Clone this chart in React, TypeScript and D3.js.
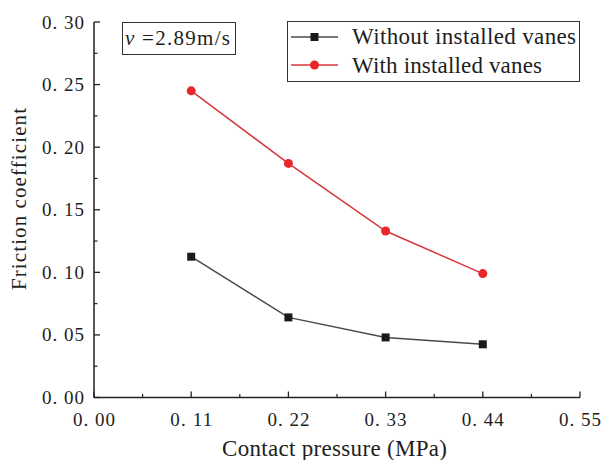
import React from "react";
import * as d3 from "d3";

const pressures = [0.11, 0.22, 0.33, 0.44];
const withoutVanes = [0.1125, 0.064, 0.048, 0.0425];
const withVanes = [0.245, 0.187, 0.133, 0.099];
const xTicks = [0, 0.11, 0.22, 0.33, 0.44, 0.55];
const yTicks = [0, 0.05, 0.1, 0.15, 0.2, 0.25, 0.3];
const seriesNames = ["Without installed vanes", "With installed vanes"];

const W = 602, H = 460;
const left = 94, right = 580, top = 22, bottom = 397.5;
const font = "'Liberation Serif', 'Times New Roman', serif";

export default function App() {
  const x = d3.scaleLinear().domain([0, 0.55]).range([left, right]);
  const y = d3.scaleLinear().domain([0, 0.3]).range([bottom, top]);
  const line = d3.line<number>().x((_, i) => x(pressures[i])).y((d) => y(d));
  const fmt = (v: number) => v.toFixed(2).replace(".", ". ");
  const xMinor = xTicks.slice(0, -1).map((t, i) => (t + xTicks[i + 1]) / 2);
  const yMinor = yTicks.slice(0, -1).map((t, i) => (t + yTicks[i + 1]) / 2);
  const black = "#1a1a1a", blackLine = "#4a4a4a", red = "#e8262b", redLine = "#d9363b";
  const txt = "#1e1e1e";

  return (
    <svg width={W} height={H} style={{ position: "absolute", left: 0, top: 0, background: "#fff", fontFamily: font }}>
      <rect width={W} height={H} fill="#fff" />
      {/* axes */}
      <line x1={left} x2={right} y1={bottom} y2={bottom} stroke="#222" strokeWidth={1.5} />
      <line x1={left} x2={left} y1={top} y2={bottom} stroke="#222" strokeWidth={1.5} />
      {xTicks.map((t) => (
        <g key={"xt" + t}>
          <line x1={x(t)} x2={x(t)} y1={bottom} y2={bottom - 6} stroke="#222" strokeWidth={1.3} />
          <text x={x(t)} y={426} textAnchor="middle" fontSize={19} fill={txt} textLength={42} lengthAdjust="spacing">{fmt(t)}</text>
        </g>
      ))}
      {xMinor.map((t) => (
        <line key={"xm" + t} x1={x(t)} x2={x(t)} y1={bottom} y2={bottom - 3.5} stroke="#222" strokeWidth={1.2} />
      ))}
      {yTicks.map((t) => (
        <g key={"yt" + t}>
          <line x1={left} x2={left + 6} y1={y(t)} y2={y(t)} stroke="#222" strokeWidth={1.3} />
          <text x={63} y={y(t) + 6.5} textAnchor="middle" fontSize={19} fill={txt} textLength={42} lengthAdjust="spacing">{fmt(t)}</text>
        </g>
      ))}
      {yMinor.map((t) => (
        <line key={"ym" + t} x1={left} x2={left + 3.5} y1={y(t)} y2={y(t)} stroke="#222" strokeWidth={1.2} />
      ))}
      {/* axis titles */}
      <text x={334.5} y={456} textAnchor="middle" fontSize={23} fill={txt} textLength={225} lengthAdjust="spacing">Contact pressure (MPa)</text>
      <text transform={`translate(25.5, 199) rotate(-90)`} textAnchor="middle" fontSize={21} fill={txt} textLength={182} lengthAdjust="spacing">Friction  coefficient</text>
      {/* series */}
      <path d={line(withoutVanes) || ""} fill="none" stroke={blackLine} strokeWidth={1.5} />
      <path d={line(withVanes) || ""} fill="none" stroke={redLine} strokeWidth={1.5} />
      {withoutVanes.map((v, i) => (
        <rect key={"b" + i} x={x(pressures[i]) - 4} y={y(v) - 4} width={8} height={8} fill={black} />
      ))}
      {withVanes.map((v, i) => (
        <circle key={"r" + i} cx={x(pressures[i])} cy={y(v)} r={4.5} fill={red} />
      ))}
      {/* velocity box */}
      <rect x={122.5} y={22.5} width={113} height={32} fill="#fff" stroke="#333" strokeWidth={1} />
      <text x={125} y={45} fontSize={21} fill={txt} textLength={105} lengthAdjust="spacing">
        <tspan fontStyle="italic">v</tspan> =2.89m/s
      </text>
      {/* legend */}
      <rect x={287.5} y={21.5} width={292} height={60} fill="#fff" stroke="#333" strokeWidth={1} />
      <line x1={291} x2={338} y1={37} y2={37} stroke={blackLine} strokeWidth={1.5} />
      <rect x={310.5} y={33} width={8} height={8} fill={black} />
      <text x={352} y={44} fontSize={23} fill={txt} textLength={224} lengthAdjust="spacing">{seriesNames[0]}</text>
      <line x1={291} x2={338} y1={65} y2={65} stroke={redLine} strokeWidth={1.5} />
      <circle cx={314.5} cy={65} r={4.5} fill={red} />
      <text x={352} y={73} fontSize={23} fill={txt} textLength={190} lengthAdjust="spacing">{seriesNames[1]}</text>
    </svg>
  );
}
